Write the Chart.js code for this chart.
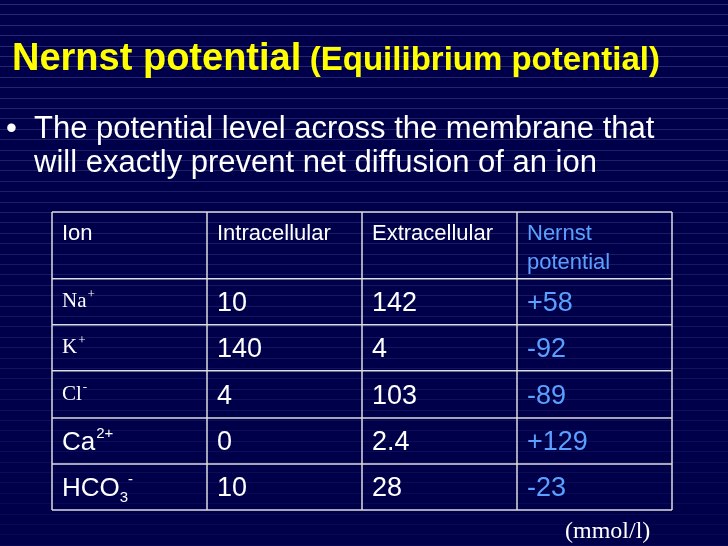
<!DOCTYPE html>
<html><head><meta charset="utf-8">
<script src="https://cdn.jsdelivr.net/npm/chart.js@4"></script>
<style>html,body{margin:0;padding:0;background:#000048;}#c{display:block;}</style>
</head><body>
<div style="width:728px;height:546px;position:relative"><canvas id="c" width="728" height="546"></canvas></div>
<script>
const headers = ["Ion", "Intracellular", "Extracellular", "Nernst\npotential"];
const ions = [["Na","+"],["K","+"],["Cl","-"],["Ca","2+"],["HCO","3","-"]];
const intracellular = ["10","140","4","0","10"];
const extracellular = ["142","4","103","2.4","28"];
const nernst = ["+58","-92","-89","+129","-23"];
const rowUnits = [1.45,1,1,1.03,1,1];

const bounds=[0]; rowUnits.forEach(u=>bounds.push(bounds[bounds.length-1]+u));
const total=bounds[bounds.length-1];

const bg={id:'bg',beforeDraw(ch){const c=ch.ctx;c.save();
 c.fillStyle='#00004a';c.fillRect(0,0,728,546);
 for(let y=4;y<546;y+=10.4){const a=Math.max(0,0.3-y/546*0.25);c.strokeStyle=`rgba(130,140,210,${a})`;c.lineWidth=1;c.beginPath();c.moveTo(0,Math.round(y)+0.5);c.lineTo(728,Math.round(y)+0.5);c.stroke();}
 c.fillStyle='#ffff00';c.textBaseline='alphabetic';
 c.font='bold 38px "Liberation Sans",Arial';c.fillText('Nernst potential',12,70);
 const w=c.measureText('Nernst potential ').width;
 c.font='bold 33px "Liberation Sans",Arial';c.fillText('(Equilibrium potential)',10+w,70);
 c.fillStyle='#ffffff';c.font='31px "Liberation Sans",Arial';
 c.fillText('•',6,138);
 c.fillText('The potential level across the membrane that',34,138);
 c.fillText('will exactly prevent net diffusion of an ion',34,172);
 c.font='24px "Liberation Serif",serif';c.fillText('(mmol/l)',565,538);
 c.restore();},
 afterDraw(ch){const c=ch.ctx,x=ch.scales.x,y=ch.scales.y;c.save();
 c.strokeStyle='#dddddd';c.lineWidth=1.5;
 for(let i=0;i<=4;i++){const px=x.getPixelForValue(i);c.beginPath();c.moveTo(px,y.getPixelForValue(0));c.lineTo(px,y.getPixelForValue(total));c.stroke();}
 bounds.forEach(b=>{const py=y.getPixelForValue(b);c.beginPath();c.moveTo(x.getPixelForValue(0),py);c.lineTo(x.getPixelForValue(4),py);c.stroke();});
 const cx=i=>x.getPixelForValue(i)+10;
 c.font='22px "Liberation Sans",Arial';c.textBaseline='middle';
 headers.forEach((h,i)=>{c.fillStyle=i==3?'#5aa0ff':'#ffffff';h.split('\n').forEach((l,k)=>c.fillText(l,cx(i),y.getPixelForValue(0)+22+k*29));});
 for(let r=0;r<5;r++){const mid=(y.getPixelForValue(bounds[r+1])+y.getPixelForValue(bounds[r+2]))/2;
  c.fillStyle='#ffffff';
  const ion=ions[r];
  if(r<3){c.font='21px "Liberation Serif",serif';c.fillText(ion[0],cx(0),mid);let w=c.measureText(ion[0]).width;c.font='13px "Liberation Serif",serif';c.fillText(ion[1],cx(0)+w+1,mid-7);}
  else{c.font='26px "Liberation Sans",Arial';c.fillText(ion[0],cx(0),mid+2);let w=c.measureText(ion[0]).width;c.font='15px "Liberation Sans",Arial';
   if(ion.length==2)c.fillText(ion[1],cx(0)+w+1,mid-7);else{c.fillText(ion[1],cx(0)+w,mid+11);let w2=c.measureText(ion[1]).width;c.fillText(ion[2],cx(0)+w+w2,mid-7);}}
  c.font='27px "Liberation Sans",Arial';
  c.fillText(intracellular[r],cx(1),mid+2);c.fillText(extracellular[r],cx(2),mid+2);
  c.fillStyle='#5aa0ff';c.fillText(nernst[r],cx(3),mid+2);}
 c.restore();}};

new Chart(document.getElementById('c'),{type:'scatter',
 data:{datasets:[{data:[],pointRadius:0}]},
 options:{responsive:false,animation:false,events:[],
  layout:{padding:{left:52,right:56,top:212,bottom:36}},
  plugins:{legend:{display:false},tooltip:{enabled:false}},
  scales:{x:{type:'linear',min:0,max:4,display:false},y:{type:'linear',min:0,max:total,reverse:true,display:false}}},
 plugins:[bg]});
</script></body></html>
